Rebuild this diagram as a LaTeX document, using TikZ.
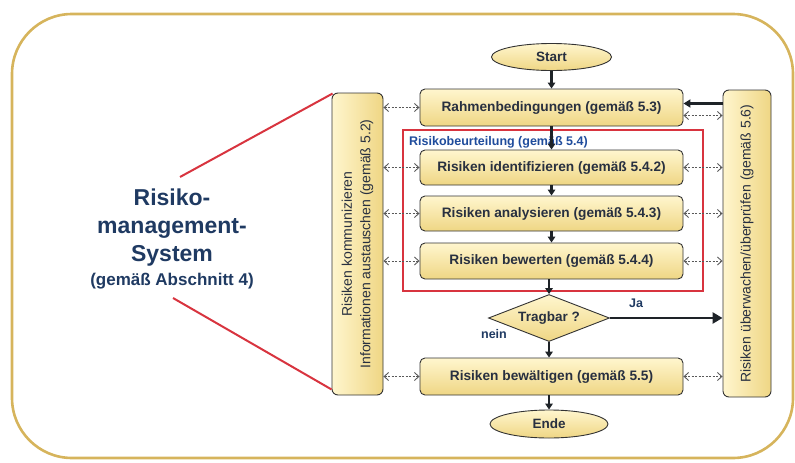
\documentclass[tikz,border=0pt]{standalone}
\usepackage{fontspec}
\setmainfont{Liberation Sans}
\usetikzlibrary{arrows.meta,shapes.geometric}
\definecolor{framegold}{HTML}{D6B45C}
\definecolor{boxtop}{HTML}{FFF6CE}
\definecolor{boxbot}{HTML}{EFD684}
\definecolor{boxedge}{HTML}{333333}
\definecolor{boxtext}{HTML}{283040}
\definecolor{navy}{HTML}{1F3A62}
\definecolor{labelblue}{HTML}{1F4C9C}
\definecolor{riskred}{HTML}{D8343F}
\definecolor{flowdark}{HTML}{1E2328}
\tikzset{
  procbox/.style={rectangle, rounded corners=5pt, draw=boxedge, line width=0.9pt,
    top color=boxtop, bottom color=boxbot, minimum width=263pt, minimum height=36pt,
    inner sep=0pt, text=boxtext, font=\bfseries\fontsize{13.7}{16}\selectfont},
  terminal/.style={ellipse, draw=boxedge, line width=0.9pt, top color=boxtop,
    bottom color=boxbot, minimum width=120pt, minimum height=27pt, inner sep=0pt,
    text=boxtext, font=\bfseries\fontsize{13.5}{16}\selectfont},
  decision/.style={diamond, draw=boxedge, line width=0.9pt, top color=boxtop,
    bottom color=boxbot, aspect=2.57, minimum width=121pt, minimum height=47pt,
    inner sep=0pt, text=boxtext, font=\bfseries\fontsize{13.5}{16}\selectfont},
  sidebox/.style={rectangle, rounded corners=6pt, draw=boxedge, line width=0.9pt,
    left color=boxtop, right color=boxbot, inner sep=0pt},
  sidetext/.style={rotate=90, align=center, text=boxtext,
    font=\fontsize{14}{18.5}\selectfont},
  flow/.style={draw=flowdark, line width=2.4pt, -{Triangle[length=6pt,width=7.5pt]}},
  exchange/.style={draw=black!65, line width=0.9pt, dash pattern=on 2pt off 1.5pt,
    {Straight Barb[length=4.5pt,width=8pt]}-{Straight Barb[length=4.5pt,width=8pt]}},
  strong/.style={draw=flowdark, line width=2.8pt, -{Triangle[length=10pt,width=11pt]}},
  tag/.style={text=labelblue, font=\bfseries\fontsize{12.5}{15}\selectfont, inner sep=0pt},
}
\begin{document}
\begin{tikzpicture}[x=1pt,y=-1pt]
\useasboundingbox (0,0) rectangle (795,463);
% outer frame
\draw[framegold, line width=2.6pt, rounded corners=60pt] (12,14) rectangle (793,458);

% side boxes
\node[sidebox, minimum width=51pt, minimum height=302pt] (comm) at (357.5,244) {};
\node[sidetext] (commtext) at (comm.center) {Risiken kommunizieren\\Informationen austauschen (gemäß 5.2)};
\node[sidebox, minimum width=48pt, minimum height=307pt] (mon) at (747,243.5) {};
\node[sidetext] (montext) at (mon.center) {Risiken überwachen/überprüfen (gemäß 5.6)};

% risk assessment frame
\draw[riskred, line width=1.5pt] (403,130) rectangle (703,291);
\node[tag, anchor=west] (assess) at (409,142) {Risikobeurteilung (gemäß 5.4)};

% process chain
\node[terminal] (start) at (551.5,57) {Start};
\node[procbox, minimum height=37pt] (r53) at (551.5,107.5) {Rahmenbedingungen (gemäß 5.3)};
\node[procbox, minimum height=35pt] (r542) at (551.5,167.5) {Risiken identifizieren (gemäß 5.4.2)};
\node[procbox, minimum height=35pt] (r543) at (551.5,213.5) {Risiken analysieren (gemäß 5.4.3)};
\node[procbox, minimum height=36pt] (r544) at (551.5,261) {Risiken bewerten (gemäß 5.4.4)};
\node[decision] (ok) at (549,318) {Tragbar ?};
\node[procbox, minimum height=37pt] (r55) at (551.5,376.5) {Risiken bewältigen (gemäß 5.5)};
\node[terminal, minimum width=118pt, minimum height=28pt] (ende) at (549,424) {Ende};

\draw[flow] (start) -- (r53);
\draw[flow] (r53) -- (r542);
\draw[flow] (r542) -- (r543);
\draw[flow] (r543) -- (r544);
\draw[flow] (r544.south -| ok.north) -- (ok.north);
\draw[flow] (ok.south) -- (r55.north -| ok.south);
\draw[flow] (r55.south -| ende.north) -- (ende.north);

% decision outcomes
\draw[strong] (ok.east) -- (mon.west |- ok.east);
\node[tag, text=navy] (ja) at (636,303) {Ja};
\node[tag, text=navy] (nein) at (494,334) {nein};

% feedback from monitoring and information exchange on the right of r53
\coordinate (fbin) at ([yshift=4pt]r53.east);
\coordinate (exin) at ([yshift=-8pt]r53.east);
\draw[strong, line width=2.6pt, -{Triangle[length=7pt,width=8pt]}] (mon.west |- fbin) -- (fbin);
\draw[exchange] (exin) -- (mon.west |- exin);

% information exchange
\foreach \b in {r53,r542,r543,r544,r55}{
  \draw[exchange] (comm.east |- \b.west) -- (\b.west);
}
\foreach \b in {r542,r543,r544,r55}{
  \draw[exchange] (\b.east) -- (mon.west |- \b.east);
}

% management system
\node[align=center, text=navy, font=\bfseries\fontsize{23}{28}\selectfont] (rms) at (172,228) {Risiko-\\management-\\System};
\node[text=navy, font=\bfseries\fontsize{17}{20}\selectfont] (rmsref) at (172,281) {(gemäß Abschnitt 4)};
\coordinate (rmstop) at (180,177);
\coordinate (rmsbot) at (173,298);
\draw[riskred, line width=2pt] (rmstop) -- ([xshift=1pt,yshift=-1pt]comm.north west);
\draw[riskred, line width=2pt] (rmsbot) -- ([yshift=6pt]comm.south west);
\end{tikzpicture}
\end{document}
